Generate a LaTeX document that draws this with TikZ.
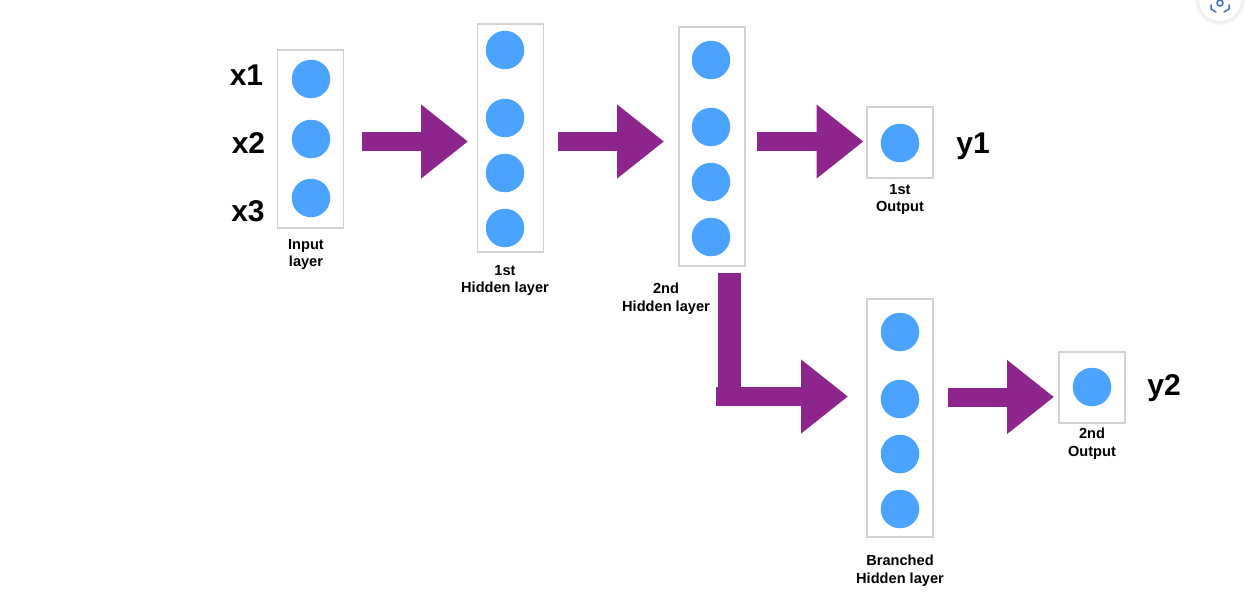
\documentclass[tikz,border=0pt]{standalone}
\usepackage{fontspec}
\setmainfont{Liberation Sans}
\usetikzlibrary{arrows.meta}
\definecolor{boxline}{HTML}{D2D2D2}
\definecolor{dot}{HTML}{4AA3FF}
\definecolor{plum}{HTML}{8E258D}
\definecolor{lensblue}{HTML}{3E6FC4}
\tikzset{
  x=1pt,y=-1pt,
  layerbox/.style={draw=boxline,line width=1.3pt,fill=white,minimum width=66pt,inner sep=0pt},
  neuron/.style={circle,fill=dot,minimum size=38.5pt,inner sep=0pt},
  varlabel/.style={font=\fontsize{30}{33}\selectfont\bfseries,inner sep=0pt},
  caption/.style={font=\fontsize{14.6}{17.7}\selectfont\bfseries,align=center,inner sep=0pt},
  flow/.style={draw=plum,line width=19pt,-{Triangle[length=47pt,width=71pt]}},
}
\begin{document}
\begin{tikzpicture}
\useasboundingbox (0,0) rectangle (1256,598);
% camera button
\foreach \r/\c in {25/97,24/96,23/95,22/93,21/100}{\fill[black!\the\numexpr100-\c\relax] (1220,0) circle (\r);}
\draw[lensblue,line width=1.5pt] (1220,3) circle (3);
\draw[lensblue,line width=1.5pt,line cap=round] (1211,5) -- (1211,9) -- (1216,12);
\draw[lensblue,line width=1.5pt,line cap=round] (1229,5) -- (1229,9) -- (1224,12);
% layer boxes
\node[layerbox,minimum height=178pt] (input) at (310.5,139) {};
\node[layerbox,minimum height=228pt] (hone) at (510.5,138) {};
\node[layerbox,minimum height=239pt] (htwo) at (712,146.5) {};
\node[layerbox,minimum height=71pt] (oone) at (900,142.5) {};
\node[layerbox,minimum height=238pt] (hbr) at (900,418) {};
\node[layerbox,minimum height=71pt] (otwo) at (1092,387.5) {};
% neurons
\node[neuron] (i1) at (311,79) {};
\node[neuron] (i2) at (311,139) {};
\node[neuron] (i3) at (311,198) {};
\node[neuron] (a1) at (505,50) {};
\node[neuron] (a2) at (505,118) {};
\node[neuron] (a3) at (505,173) {};
\node[neuron] (a4) at (505,228) {};
\node[neuron] (b1) at (711,60) {};
\node[neuron] (b2) at (711,127) {};
\node[neuron] (b3) at (711,182) {};
\node[neuron] (b4) at (711,237) {};
\node[neuron] (o1) at (900,143) {};
\node[neuron] (c1) at (900,332) {};
\node[neuron] (c2) at (900,399) {};
\node[neuron] (c3) at (900,454) {};
\node[neuron] (c4) at (900,509) {};
\node[neuron] (o2) at (1092,387) {};
% variable labels
\node[varlabel] (x1) at (246.5,75.5) {x1};
\node[varlabel] (x2) at (248.5,143.5) {x2};
\node[varlabel] (x3) at (248,211.5) {x3};
\node[varlabel] (y1) at (973,146.5) {y1};
\node[varlabel] (y2) at (1164,388.5) {y2};
% captions
\node[caption] (capi) at (306,254.5) {Input\\layer};
\node[caption] (capa) at (505,280.5) {1st\\Hidden layer};
\node[caption] (capb) at (666,298.5) {2nd\\Hidden layer};
\node[caption] (capo) at (900,199.5) {1st\\Output};
\node[caption] (capc) at (900,570.5) {Branched\\Hidden layer};
\node[caption] (capt) at (1092,443.5) {2nd\\Output};
% arrows
\coordinate (s1) at (362,141.5); \coordinate (e1) at (468,141.5);
\coordinate (s2) at (558,141.5); \coordinate (e2) at (664,141.5);
\coordinate (s3) at (757,141.5); \coordinate (e3) at (863.5,141.5);
\coordinate (s4) at (716,396.5); \coordinate (e4) at (848,396.5);
\coordinate (s5) at (948,397); \coordinate (e5) at (1054,397);
\coordinate (t4) at (729.5,273);
\coordinate (k4) at (729.5,397);
\draw[flow] (s1) -- (e1);
\draw[flow] (s2) -- (e2);
\draw[flow] (s3) -- (e3);
\draw[flow] (s5) -- (e5);
\draw[plum,line width=23.5pt] (t4) -- (k4);
\draw[flow] (s4) -- (e4);
\end{tikzpicture}
\end{document}
